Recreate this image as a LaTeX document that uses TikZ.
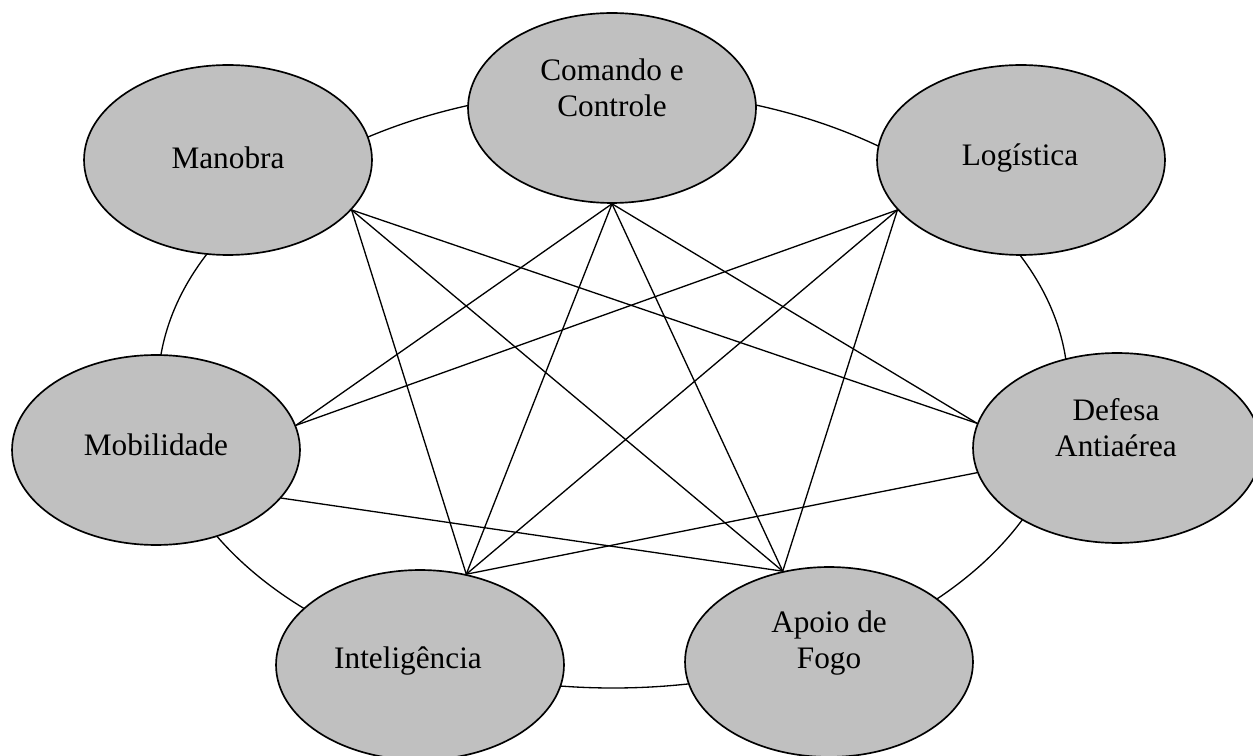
\documentclass[tikz,border=0pt]{standalone}
\usepackage{fontspec}
\setmainfont{Liberation Serif}
\usetikzlibrary{shapes.geometric}
\definecolor{unitgray}{HTML}{C0C0C0}

\begin{document}
\begin{tikzpicture}[x=0.02cm,y=-0.02cm,
    unit/.style={ellipse, draw, line width=0.95pt, fill=unitgray, inner sep=0pt,
        minimum width=\unitwidth, minimum height=\unitheight},
    lbl/.style={align=center, font=\fontsize{17.8}{20.5}\selectfont},
    link/.style={line width=0.75pt}]
    % Define ellipse size
    \def\unitwidth{5.76cm}
    \def\unitheight{3.8cm}

    \useasboundingbox (0,0) rectangle (1253,756);
    \clip (0,0) rectangle (1253,756);

    % Outer ring
    \draw[link] (613,389) ellipse [x radius=455, y radius=299];

    % Functions
    \node[unit] (comando) at (612,108) {};
    \node[unit] (manobra) at (228,160) {};
    \node[unit] (logistica) at (1021,160) {};
    \node[unit] (mobilidade) at (156,450) {};
    \node[unit] (defesa) at (1117,448) {};
    \node[unit] (inteligencia) at (420,665) {};
    \node[unit] (apoio) at (829,662) {};

    % Texts
    \node[lbl] at (612,88) {Comando e\\Controle};
    \node[lbl] at (228,158) {Manobra};
    \node[lbl] at (1020,158) {Logística};
    \node[lbl] at (156,445) {Mobilidade};
    \node[lbl] at (1116,428) {Defesa\\Antiaérea};
    \node[lbl] at (408,661) {Inteligência};
    \node[lbl] at (829,643) {Apoio de\\Fogo};

    % Links between the functions
    \foreach \a/\b in {manobra.-22/defesa.170, manobra.-22/apoio.117, manobra.-22/inteligencia.63,
        comando.south/mobilidade.10, comando.south/inteligencia.63,
        comando.south/apoio.117, comando.south/defesa.170,
        logistica.-158/mobilidade.10, logistica.-158/inteligencia.63, logistica.-158/apoio.117,
        mobilidade.-21/apoio.117, defesa.190/inteligencia.63} {
        \draw[link] (\a) -- (\b);
    }
\end{tikzpicture}
\end{document}
